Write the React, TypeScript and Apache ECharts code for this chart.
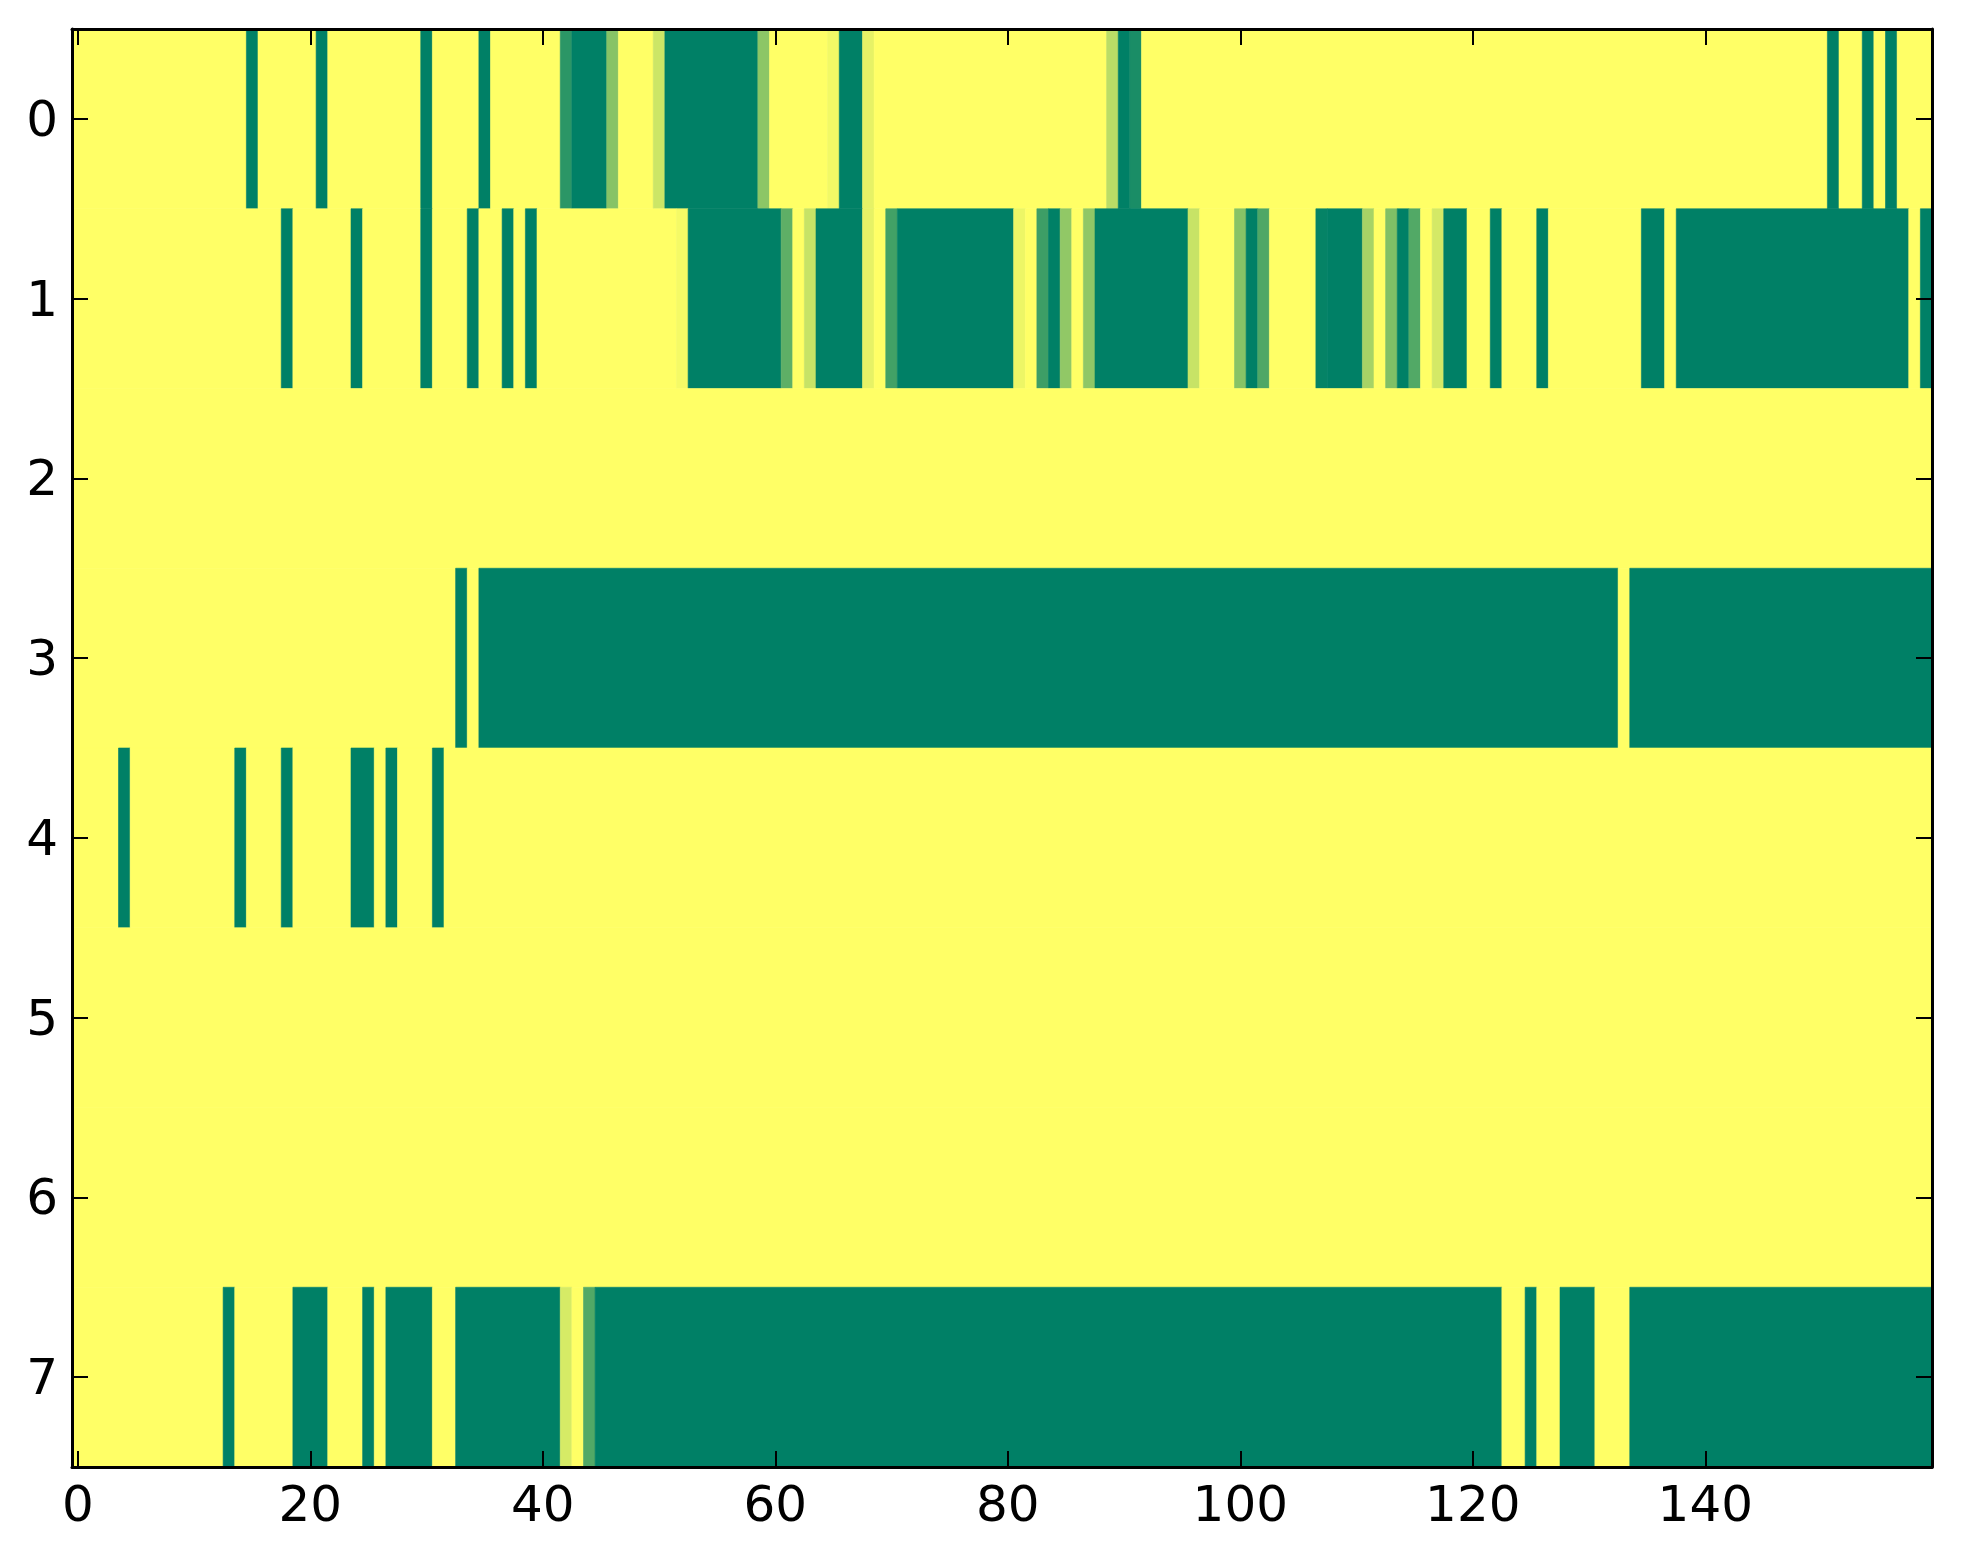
import React, { useEffect, useRef } from "react";
import * as echarts from "echarts";

// x categories (column index) and y categories (row index)
const N_COLS = 160;
const xCategories: string[] = Array.from({ length: N_COLS }, (_, i) => String(i));
const yCategories: string[] = ["0", "1", "2", "3", "4", "5", "6", "7"];
const xTickStep = 20; // tick labels 0, 20, ..., 140

// Non-yellow runs per row: [startCol, endCol, value]; every other cell is 1 (yellow)
const row0Runs: number[][] = [
  [15, 15, 0], [21, 21, 0], [30, 30, 0], [35, 35, 0], [42, 42, 0.17], [43, 45, 0],
  [46, 46, 0.53], [50, 50, 0.8], [51, 58, 0], [59, 59, 0.55], [65, 65, 0.95],
  [66, 67, 0], [68, 68, 0.9], [89, 89, 0.73], [90, 90, 0], [91, 91, 0.1],
  [151, 151, 0], [154, 154, 0], [156, 156, 0],
];
const row1Runs: number[][] = [
  [18, 18, 0], [24, 24, 0], [30, 30, 0], [34, 34, 0], [37, 37, 0], [39, 39, 0],
  [52, 52, 0.96], [53, 60, 0], [61, 61, 0.37], [63, 63, 0.78], [64, 67, 0],
  [68, 68, 0.9], [70, 70, 0.26], [71, 80, 0], [81, 81, 0.93], [83, 83, 0.24],
  [84, 84, 0], [85, 85, 0.57], [87, 87, 0.56], [88, 95, 0], [96, 96, 0.78],
  [100, 100, 0.53], [101, 101, 0], [102, 102, 0.31], [107, 107, 0.02], [108, 110, 0],
  [111, 111, 0.65], [113, 113, 0.5], [114, 114, 0], [115, 115, 0.32], [117, 117, 0.83],
  [118, 119, 0], [122, 122, 0], [126, 126, 0], [135, 136, 0], [138, 157, 0], [159, 159, 0],
];
const row2Runs: number[][] = [];
const row3Runs: number[][] = [[33, 33, 0], [35, 132, 0], [134, 159, 0]];
const row4Runs: number[][] = [[4, 4, 0], [14, 14, 0], [18, 18, 0], [24, 25, 0], [27, 27, 0], [31, 31, 0]];
const row5Runs: number[][] = [];
const row6Runs: number[][] = [];
const row7Runs: number[][] = [
  [13, 13, 0], [19, 21, 0], [25, 25, 0], [27, 30, 0], [33, 41, 0], [42, 42, 0.84],
  [44, 44, 0.32], [45, 122, 0], [125, 125, 0], [128, 130, 0], [134, 159, 0],
];
const allRows = [row0Runs, row1Runs, row2Runs, row3Runs, row4Runs, row5Runs, row6Runs, row7Runs];

// Build full grid (default 1), then merge equal neighbours into segments [start, end, row, value]
function buildSegments(): number[][] {
  const out: number[][] = [];
  allRows.forEach((runs, r) => {
    const vals: number[] = new Array(N_COLS).fill(1);
    runs.forEach(([s, e, v]) => {
      for (let c = s; c <= e; c++) vals[c] = v;
    });
    let start = 0;
    for (let c = 1; c <= N_COLS; c++) {
      if (c === N_COLS || vals[c] !== vals[start]) {
        out.push([start, c - 1, r, vals[start]]);
        start = c;
      }
    }
  });
  return out;
}

const FONT = "DejaVu Sans";

export default function App() {
  const ref = useRef<HTMLDivElement>(null);
  useEffect(() => {
    if (!ref.current) return;
    const chart = echarts.init(ref.current, undefined, { renderer: "svg" });
    const tickStyle = { show: true, inside: true, length: 16, lineStyle: { color: "#000", width: 2 } };
    const lineStyle = { show: true, onZero: false, lineStyle: { color: "#000", width: 3 } };
    chart.setOption({
      animation: false,
      backgroundColor: "#fff",
      grid: { left: 72, right: 31, top: 29, bottom: 97, containLabel: false },
      visualMap: {
        show: false,
        type: "continuous",
        min: 0,
        max: 1,
        dimension: 3,
        seriesIndex: 0,
        inRange: { color: ["#008066", "#ffff66"] },
      },
      xAxis: [
        {
          type: "category",
          data: xCategories,
          position: "bottom",
          z: 10,
          axisLine: lineStyle,
          axisTick: { ...tickStyle, alignWithLabel: true, interval: (i: number) => i % xTickStep === 0 },
          axisLabel: {
            interval: (i: number) => i % xTickStep === 0,
            margin: 12,
            fontSize: 50,
            fontFamily: FONT,
            color: "#000",
          },
          splitLine: { show: false },
        },
        {
          type: "category",
          data: xCategories,
          position: "top",
          z: 10,
          axisLine: lineStyle,
          axisTick: { ...tickStyle, alignWithLabel: true, interval: (i: number) => i % xTickStep === 0 },
          axisLabel: { show: false },
          splitLine: { show: false },
        },
      ],
      yAxis: [
        {
          type: "category",
          data: yCategories,
          inverse: true,
          position: "left",
          z: 10,
          axisLine: lineStyle,
          axisTick: { ...tickStyle, alignWithLabel: true, interval: 0 },
          axisLabel: { interval: 0, margin: 14, fontSize: 50, fontFamily: FONT, color: "#000" },
          splitLine: { show: false },
        },
        {
          type: "category",
          data: yCategories,
          inverse: true,
          position: "right",
          z: 10,
          axisLine: lineStyle,
          axisTick: { ...tickStyle, alignWithLabel: true, interval: 0 },
          axisLabel: { show: false },
          splitLine: { show: false },
        },
      ],
      series: [
        {
          type: "custom",
          xAxisIndex: 0,
          yAxisIndex: 0,
          clip: true,
          encode: { x: 0, y: 2 },
          data: buildSegments(),
          renderItem: (params: any, api: any) => {
            const s = api.value(0);
            const e = api.value(1);
            const r = api.value(2);
            const size = api.size([1, 1]);
            const p0 = api.coord([s, r]);
            const p1 = api.coord([e, r]);
            const color = api.visual("color");
            return {
              type: "rect",
              shape: {
                x: p0[0] - size[0] / 2,
                y: p0[1] - size[1] / 2,
                width: p1[0] - p0[0] + size[0],
                height: size[1],
              },
              style: { fill: color, stroke: color, lineWidth: 0.6 },
            };
          },
        },
      ],
    });
    return () => chart.dispose();
  }, []);
  return (
    <div
      ref={ref}
      style={{ position: "absolute", left: 0, top: 0, width: 1963, height: 1564, background: "#fff" }}
    />
  );
}
